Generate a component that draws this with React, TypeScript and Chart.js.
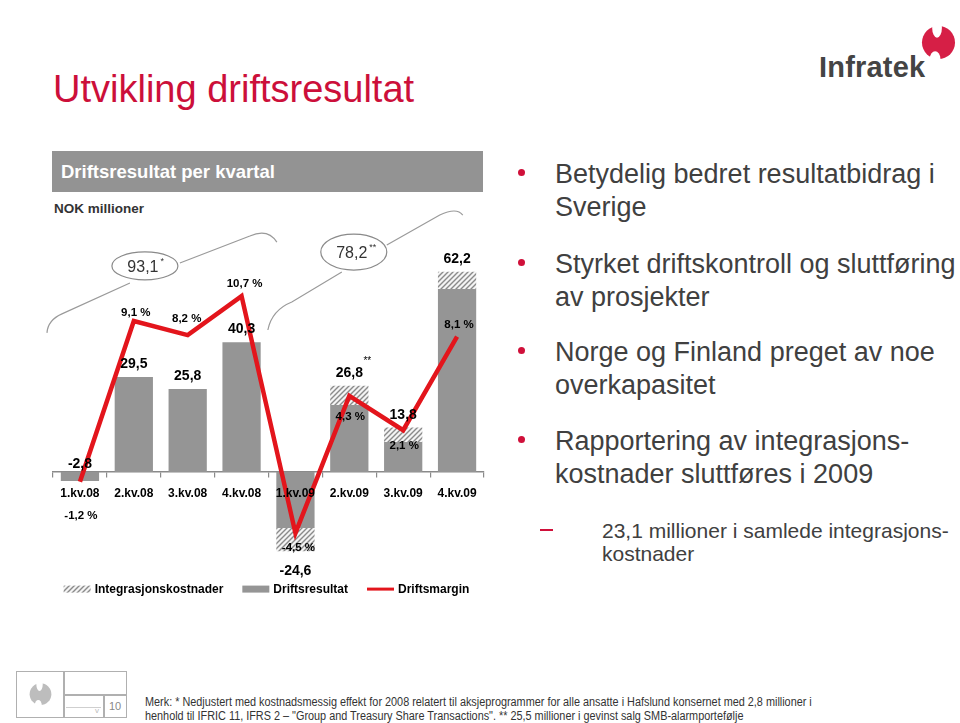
import React, { useEffect, useRef } from 'react';
import { Chart, registerables } from 'chart.js';

Chart.register(...registerables);

// ---------- data ----------
const categories = ['1.kv.08', '2.kv.08', '3.kv.08', '4.kv.08', '1.kv.09', '2.kv.09', '3.kv.09', '4.kv.09'];
const driftsresultat = [-2.8, 29.5, 25.8, 40.3, -24.6, 26.8, 13.8, 62.2];
const integrasjonskostnader = [0, 0, 0, 0, 7.2, 6.0, 4.5, 5.4];
const driftsmargin = [-1.2, 9.1, 8.2, 10.7, -4.5, 4.3, 2.1, 8.1];
const valueMarkers = ['', '', '', '', '', '**', '', ''];
const annualTotals = [93.1, 78.2];
const annualMarkers = ['*', '**'];

// ---------- layout config (label nudges, not data) ----------
const pctLabelDx = [1, 2, -1, 3, 3, 1, 1, 2];
const pctLabelDy = [37, -5, -13, -9, 18, 24, 19, -9];

const FONT = '"Liberation Sans", Arial, Helvetica, sans-serif';
const BAR_GRAY = '#959595';
const LINE_RED = '#e3151c';
const TEXT_GRAY = '#404040';
const RED = '#cc0f3a';

const fmt = (v: number) => v.toFixed(1).replace('.', ',');

const baseValues = driftsresultat.map((v, i) => (v >= 0 ? v - integrasjonskostnader[i] : v + integrasjonskostnader[i]));
const costValues = driftsresultat.map((v, i) => (v >= 0 ? integrasjonskostnader[i] : -integrasjonskostnader[i]));

function makeHatch(): CanvasPattern | string {
  const c = document.createElement('canvas');
  c.width = 5;
  c.height = 5;
  const g = c.getContext('2d');
  if (!g) return '#bbb';
  g.fillStyle = '#f4f4f4';
  g.fillRect(0, 0, 5, 5);
  g.strokeStyle = '#8a8a8a';
  g.lineWidth = 1.4;
  g.beginPath();
  g.moveTo(-1, 6);
  g.lineTo(6, -1);
  g.moveTo(-1, 1);
  g.lineTo(1, -1);
  g.moveTo(4, 6);
  g.lineTo(6, 4);
  g.stroke();
  return g.createPattern(c, 'repeat') || '#bbb';
}

const overlayPlugin = {
  id: 'overlay',
  afterDatasetsDraw(chart: any) {
    const ctx: CanvasRenderingContext2D = chart.ctx;
    const x = chart.scales.x;
    const y = chart.scales.y;
    const y1 = chart.scales.y1;
    const ca = chart.chartArea;
    const P = (i: number, v: number): [number, number] => [x.getPixelForValue(i), y.getPixelForValue(v)];
    ctx.save();

    // value labels
    ctx.textAlign = 'center';
    ctx.textBaseline = 'alphabetic';
    ctx.fillStyle = '#000';
    const zero = y.getPixelForValue(0);
    driftsresultat.forEach((v, i) => {
      const cx = x.getPixelForValue(i);
      const py = y.getPixelForValue(v);
      let by: number;
      if (v >= 0) by = py - 9;
      else if (py - zero < 20) by = zero - 4;
      else by = py + 24;
      ctx.font = `bold 14px ${FONT}`;
      ctx.fillText(fmt(v), cx, by);
      if (valueMarkers[i]) {
        ctx.font = `10px ${FONT}`;
        ctx.fillText(valueMarkers[i], cx + 18, by - 13);
      }
    });

    // percent labels
    ctx.font = `bold 11.5px ${FONT}`;
    driftsmargin.forEach((v, i) => {
      const cx = x.getPixelForValue(i) + pctLabelDx[i];
      const py = y1.getPixelForValue(v) + pctLabelDy[i];
      ctx.fillText(`${fmt(v)} %`, cx, py);
    });

    // braces + ellipses with annual totals
    ctx.strokeStyle = '#9a9a9a';
    ctx.lineWidth = 1.2;
    const path = (pts: [number, number][], ctrlIdx: number[]) => {
      ctx.beginPath();
      ctx.moveTo(pts[0][0], pts[0][1]);
      let k = 1;
      while (k < pts.length) {
        if (ctrlIdx.includes(k)) {
          ctx.quadraticCurveTo(pts[k][0], pts[k][1], pts[k + 1][0], pts[k + 1][1]);
          k += 2;
        } else {
          ctx.lineTo(pts[k][0], pts[k][1]);
          k += 1;
        }
      }
      ctx.stroke();
    };
    // brace 2008
    path([P(-0.612, 43.2), P(-0.594, 47.2), P(-0.334, 49.1), P(0.928, 58.7)], [1]);
    path([P(1.855, 64.9), P(3.154, 73.3), P(3.488, 75.8), P(3.655, 71.4)], [2]);
    // brace 2009
    path([P(3.488, 44.1), P(3.562, 50.3), P(3.933, 52.8), P(4.861, 62.1)], [1]);
    path([P(5.696, 70.5), P(6.679, 79.8), P(6.994, 82.3), P(7.106, 79.8)], [2]);

    const ellipses = [
      { c: P(1.206, 64.0), rx: 33, ry: 14 },
      { c: P(5.083, 68.3), rx: 33, ry: 18 },
    ];
    ellipses.forEach((e, k) => {
      ctx.beginPath();
      ctx.ellipse(e.c[0], e.c[1], e.rx, e.ry, 0, 0, Math.PI * 2);
      ctx.fillStyle = '#fff';
      ctx.fill();
      ctx.strokeStyle = '#8a8a8a';
      ctx.lineWidth = 1.2;
      ctx.stroke();
      ctx.fillStyle = '#333';
      ctx.font = `16px ${FONT}`;
      ctx.textAlign = 'center';
      const txt = fmt(annualTotals[k]);
      const tx = e.c[0] - 2;
      ctx.fillText(txt, tx, e.c[1] + 6);
      const w = ctx.measureText(txt).width;
      ctx.font = `9px ${FONT}`;
      ctx.textAlign = 'left';
      ctx.fillText(annualMarkers[k], tx + w / 2 + 2, e.c[1] - 2);
    });

    // legend
    ctx.font = `bold 12px ${FONT}`;
    ctx.textAlign = 'left';
    ctx.textBaseline = 'middle';
    const ds = chart.data.datasets;
    const items = [ds[2], ds[1], ds[0]];
    const sw = 27;
    const gap = 4;
    const itemGap = 19;
    const widths = items.map((d: any) => sw + gap + ctx.measureText(d.label).width);
    const total = widths.reduce((a: number, b: number) => a + b, 0) + itemGap * (items.length - 1);
    let lx = (ca.left + ca.right) / 2 - 2 - total / 2;
    const ly = ca.bottom + 20.5;
    items.forEach((d: any, k: number) => {
      if (d.type === 'line') {
        ctx.strokeStyle = d.borderColor;
        ctx.lineWidth = 3;
        ctx.beginPath();
        ctx.moveTo(lx, ly);
        ctx.lineTo(lx + sw, ly);
        ctx.stroke();
      } else {
        ctx.fillStyle = d.backgroundColor;
        ctx.fillRect(lx, ly - 3.5, sw, 7);
      }
      ctx.fillStyle = '#000';
      ctx.fillText(d.label, lx + sw + gap, ly + 1);
      lx += widths[k] + itemGap;
    });

    ctx.restore();
  },
  afterDraw(chart: any) {
    // category labels on top of everything (just below the zero line)
    const ctx: CanvasRenderingContext2D = chart.ctx;
    const x = chart.scales.x;
    const zero = chart.scales.y.getPixelForValue(0);
    ctx.save();
    ctx.font = `bold 12px ${FONT}`;
    ctx.fillStyle = '#000';
    ctx.textAlign = 'center';
    ctx.textBaseline = 'alphabetic';
    categories.forEach((c, i) => {
      ctx.fillText(c, x.getPixelForValue(i), zero + 25);
    });
    ctx.restore();
  },
};

function ChartBlock() {
  const ref = useRef<HTMLCanvasElement | null>(null);
  useEffect(() => {
    if (!ref.current) return;
    const hatch = makeHatch();
    const chart = new Chart(ref.current, {
      type: 'bar',
      data: {
        labels: categories,
        datasets: [
          {
            type: 'line',
            label: 'Driftsmargin',
            data: driftsmargin,
            yAxisID: 'y1',
            borderColor: LINE_RED,
            backgroundColor: LINE_RED,
            borderWidth: 4.5,
            pointRadius: 0,
            tension: 0,
            fill: false,
            borderJoinStyle: 'miter',
            order: 0,
          } as any,
          {
            type: 'bar',
            label: 'Driftsresultat',
            data: baseValues,
            yAxisID: 'y',
            backgroundColor: BAR_GRAY,
            stack: 's',
            order: 1,
            barPercentage: 0.71,
            categoryPercentage: 1,
          } as any,
          {
            type: 'bar',
            label: 'Integrasjonskostnader',
            data: costValues,
            yAxisID: 'y',
            backgroundColor: hatch,
            stack: 's',
            order: 2,
            barPercentage: 0.71,
            categoryPercentage: 1,
          } as any,
        ],
      },
      options: {
        animation: false,
        responsive: false,
        maintainAspectRatio: false,
        events: [],
        layout: { padding: { left: 13, right: 16, top: 46.6, bottom: 41.4 } },
        plugins: { legend: { display: false }, tooltip: { enabled: false } },
        scales: {
          x: {
            position: { y: 0 } as any,
            stacked: true,
            offset: true,
            grid: { display: true, drawOnChartArea: false, drawTicks: true, tickLength: 5, color: '#8a8a8a', offset: true, lineWidth: 1.2 },
            border: { display: true, color: '#8a8a8a', width: 1.6 },
            ticks: { display: false, autoSkip: false },
          },
          y: { display: false, stacked: true, min: -30, max: 70 },
          y1: { display: false, min: -6.77, max: 13.87 },
        },
      } as any,
      plugins: [overlayPlugin],
    });
    return () => chart.destroy();
  }, []);
  return (
    <canvas
      ref={ref}
      width={460}
      height={410}
      style={{ position: 'absolute', left: 40, top: 200, width: 460, height: 410 }}
    />
  );
}

const bullets = [
  { top: 158, lines: ['Betydelig bedret resultatbidrag i', 'Sverige'] },
  { top: 248, lines: ['Styrket driftskontroll og sluttføring', 'av prosjekter'] },
  { top: 336, lines: ['Norge og Finland preget av noe', 'overkapasitet'] },
  { top: 425, lines: ['Rapportering av integrasjons-', 'kostnader sluttføres i 2009'] },
];

function Logo({ color, left, top, size }: { color: string; left: number; top: number; size: number }) {
  return (
    <svg width={size} height={size * 1.06} viewBox="0 0 36 38" style={{ position: 'absolute', left, top }}>
      <circle cx="18" cy="19" r="17" fill={color} />
      <ellipse cx="16.5" cy="4" rx="5" ry="10" fill="#fff" />
      <ellipse cx="14.5" cy="36" rx="5.5" ry="8" fill="#fff" />
    </svg>
  );
}

export default function App() {
  return (
    <div
      style={{
        position: 'absolute',
        left: 0,
        top: 0,
        width: 960,
        height: 723,
        overflow: 'hidden',
        background: '#fff',
        fontFamily: FONT,
      }}
    >
      {/* Title */}
      <div style={{ position: 'absolute', left: 53, top: 70, fontSize: 38, lineHeight: '38px', color: RED, whiteSpace: 'nowrap' }}>
        Utvikling driftsresultat
      </div>

      {/* Logo */}
      <div style={{ position: 'absolute', left: 819, top: 53, fontSize: 29, lineHeight: '29px', fontWeight: 'bold', color: '#444', letterSpacing: 0.2 }}>
        Infratek
      </div>
      <Logo color="#d61f46" left={921} top={24} size={35} />

      {/* Chart header */}
      <div
        style={{
          position: 'absolute',
          left: 52,
          top: 151,
          width: 431,
          height: 41,
          background: '#939393',
          color: '#fff',
          fontWeight: 'bold',
          fontSize: 18.5,
          lineHeight: '41px',
          paddingLeft: 9,
          boxSizing: 'border-box',
          whiteSpace: 'nowrap',
        }}
      >
        Driftsresultat per kvartal
      </div>
      <div style={{ position: 'absolute', left: 54, top: 201, fontSize: 13.5, lineHeight: '16px', fontWeight: 'bold', color: '#333' }}>
        NOK millioner
      </div>

      <ChartBlock />

      {/* Bullets */}
      {bullets.map((b, k) => (
        <React.Fragment key={k}>
          <div
            style={{
              position: 'absolute',
              left: 518,
              top: b.top + 25.9 - 14.5,
              width: 7,
              height: 7,
              borderRadius: '50%',
              background: '#d0103a',
            }}
          />
          <div
            style={{
              position: 'absolute',
              left: 555,
              top: b.top,
              fontSize: 27,
              lineHeight: '33px',
              color: TEXT_GRAY,
              whiteSpace: 'nowrap',
            }}
          >
            {b.lines[0]}
            <br />
            {b.lines[1]}
          </div>
        </React.Fragment>
      ))}
      <div style={{ position: 'absolute', left: 540, top: 529, width: 13, height: 2, background: '#d0103a' }} />
      <div style={{ position: 'absolute', left: 602, top: 519, fontSize: 21, lineHeight: '23px', color: TEXT_GRAY, whiteSpace: 'nowrap' }}>
        23,1 millioner i samlede integrasjons-
        <br />
        kostnader
      </div>

      {/* Footer box */}
      <div style={{ position: 'absolute', left: 16, top: 671, width: 111, height: 47, border: '1.5px solid #b0b0b0', boxSizing: 'border-box' }} />
      <div style={{ position: 'absolute', left: 63, top: 671, width: 1.5, height: 47, background: '#b0b0b0' }} />
      <div style={{ position: 'absolute', left: 63, top: 694, width: 64, height: 1.5, background: '#b0b0b0' }} />
      <div style={{ position: 'absolute', left: 103, top: 694, width: 1.5, height: 24, background: '#b0b0b0' }} />
      <div style={{ position: 'absolute', left: 66, top: 707, width: 35, height: 1, background: '#cfcfcf' }} />
      <div style={{ position: 'absolute', left: 95, top: 706, fontSize: 8, lineHeight: '10px', color: '#bbb' }}>v</div>
      <div style={{ position: 'absolute', left: 104, top: 699, width: 22, textAlign: 'center', fontSize: 11, lineHeight: '14px', color: '#888' }}>10</div>
      <Logo color="#bdbdbd" left={29} top={682} size={23} />

      {/* Footnote */}
      <div
        style={{
          position: 'absolute',
          left: 145,
          top: 695,
          fontSize: 12,
          lineHeight: '14px',
          color: '#333',
          whiteSpace: 'nowrap',
          transform: 'scaleX(0.905)',
          transformOrigin: '0 0',
        }}
      >
        Merk: * Nedjustert med kostnadsmessig effekt for 2008 relatert til aksjeprogrammer for alle ansatte i Hafslund konsernet med 2,8 millioner i
        <br />
        henhold til IFRIC 11, IFRS 2 – "Group and Treasury Share Transactions". ** 25,5 millioner i gevinst salg SMB-alarmportefølje
      </div>
    </div>
  );
}
